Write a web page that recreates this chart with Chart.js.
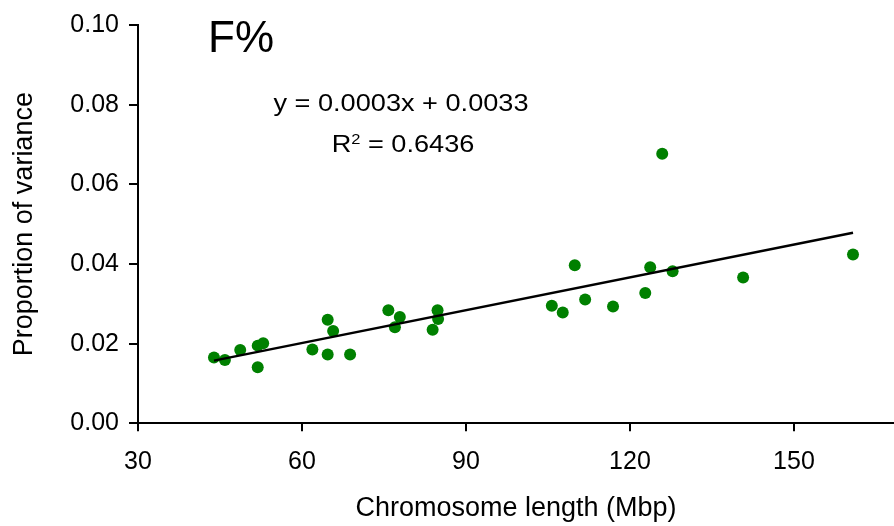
<!DOCTYPE html>
<html>
<head>
<meta charset="utf-8">
<script src="https://cdn.jsdelivr.net/npm/chart.js@4.4.1/dist/chart.umd.min.js"></script>
<style>
  html, body { margin: 0; padding: 0; background: #ffffff; }
  #wrap { width: 894px; height: 526px; }
</style>
</head>
<body>
<div id="wrap"><canvas id="c" width="894" height="526"></canvas></div>
<script>
// ---- Data ----
const chromLength = [43.9, 45.9, 48.7, 51.9, 51.9, 52.9, 61.9, 64.7, 65.7, 64.7, 68.8, 75.8, 77.9, 77.0,
                     84.8, 84.9, 83.9, 105.7, 107.7, 109.9, 111.8, 116.9, 122.8, 123.7, 125.9, 127.8, 140.7, 160.8];
const propVariance = [0.0165, 0.0159, 0.0184, 0.0141, 0.0195, 0.0201, 0.0185, 0.0260, 0.0232, 0.0173, 0.0173, 0.0284, 0.0267, 0.0241,
                      0.0284, 0.0262, 0.0235, 0.0295, 0.0278, 0.0397, 0.0311, 0.0293, 0.0327, 0.0392, 0.0677, 0.0382, 0.0366, 0.0424];
const xTicks = [30, 60, 90, 120, 150];
const yTicks = [0.00, 0.02, 0.04, 0.06, 0.08, 0.10];
const panelLabel = "F%";
const equationText = "y = 0.0003x + 0.0033";
const r2Value = "0.6436";
const xTitle = "Chromosome length (Mbp)";
const yTitle = "Proportion of variance";

// Linear least-squares trendline from the points
const n = chromLength.length;
const mx = chromLength.reduce((a, b) => a + b, 0) / n;
const my = propVariance.reduce((a, b) => a + b, 0) / n;
let sxy = 0, sxx = 0;
for (let i = 0; i < n; i++) { sxy += (chromLength[i] - mx) * (propVariance[i] - my); sxx += (chromLength[i] - mx) ** 2; }
const slope = sxy / sxx, intercept = my - slope * mx;
const xMinData = Math.min(...chromLength), xMaxData = Math.max(...chromLength);
const trend = [{x: xMinData, y: intercept + slope * xMinData}, {x: xMaxData, y: intercept + slope * xMaxData}];
const points = chromLength.map((x, i) => ({x, y: propVariance[i]}));

const FONT = "'Liberation Sans', Arial, sans-serif";
const INK = '#000000';

const annotations = {
  id: 'annotations',
  afterDraw(chart) {
    const ctx = chart.ctx;
    ctx.save();
    ctx.fillStyle = INK;
    ctx.textBaseline = 'alphabetic';
    // Panel label
    ctx.font = `44px ${FONT}`;
    ctx.textAlign = 'left';
    ctx.fillText(panelLabel, 208, 52);
    // Equation (slightly stretched horizontally like the reference)
    const sx = 1.18, cx = 401;
    ctx.font = `23px ${FONT}`;
    const ew = ctx.measureText(equationText).width * sx;
    ctx.save();
    ctx.translate(cx - ew / 2, 111);
    ctx.scale(sx, 1);
    ctx.fillText(equationText, 0, 0);
    ctx.restore();
    // R² line
    ctx.font = `23px ${FONT}`;
    const wR = ctx.measureText('R').width;
    const rest = ' = ' + r2Value;
    const wRest = ctx.measureText(rest).width;
    ctx.font = `14px ${FONT}`;
    const w2 = ctx.measureText('2').width;
    const total = (wR + w2 + wRest) * sx;
    ctx.save();
    ctx.translate(cx - total / 2 + 2, 152);
    ctx.scale(sx, 1);
    ctx.font = `23px ${FONT}`;
    ctx.fillText('R', 0, 0);
    ctx.font = `14px ${FONT}`;
    ctx.fillText('2', wR, -8);
    ctx.font = `23px ${FONT}`;
    ctx.fillText(rest, wR + w2, 0);
    ctx.restore();
    ctx.restore();
  }
};

new Chart(document.getElementById('c'), {
  type: 'scatter',
  data: {
    datasets: [
      {
        type: 'line',
        data: trend,
        borderColor: '#000000',
        borderWidth: 2.5,
        pointRadius: 0,
        fill: false,
        tension: 0
      },
      {
        data: points,
        backgroundColor: '#008000',
        borderColor: '#008000',
        borderWidth: 0,
        pointRadius: 6,
        pointHoverRadius: 6,
        pointStyle: 'circle'
      }
    ]
  },
  options: {
    responsive: false,
    animation: false,
    devicePixelRatio: 1,
    layout: { autoPadding: false, padding: { top: 22.5, right: 0, left: 0, bottom: 0 } },
    plugins: { legend: { display: false }, tooltip: { enabled: false } },
    scales: {
      x: {
        type: 'linear',
        min: 30,
        max: 168.3,
        afterBuildTicks: (s) => { s.ticks = xTicks.map(v => ({value: v})); },
        afterFit: (s) => { s.height = 102.7; },
        border: { display: true, color: '#000', width: 2 },
        grid: { display: true, drawOnChartArea: false, drawTicks: true, tickLength: 8, color: '#000', lineWidth: 2 },
        ticks: { color: INK, font: { family: FONT, size: 25 }, padding: 16, maxRotation: 0, callback: (v) => String(v) },
        title: { display: true, text: xTitle, color: INK, font: { family: FONT, size: 27 }, padding: { top: 0, bottom: 1 } }
      },
      y: {
        type: 'linear',
        min: 0,
        max: 0.10,
        afterBuildTicks: (s) => { s.ticks = yTicks.map(v => ({value: v})); },
        afterFit: (s) => { s.width = 138; },
        border: { display: true, color: '#000', width: 2 },
        grid: { display: true, drawOnChartArea: false, drawTicks: true, tickLength: 9, color: '#000', lineWidth: 2 },
        ticks: { color: INK, font: { family: FONT, size: 25 }, padding: 10, callback: (v) => Number(v).toFixed(2) },
        title: { display: true, text: yTitle, color: INK, font: { family: FONT, size: 27 }, padding: { top: 8, bottom: 0 } }
      }
    }
  },
  plugins: [annotations]
});
</script>
</body>
</html>
